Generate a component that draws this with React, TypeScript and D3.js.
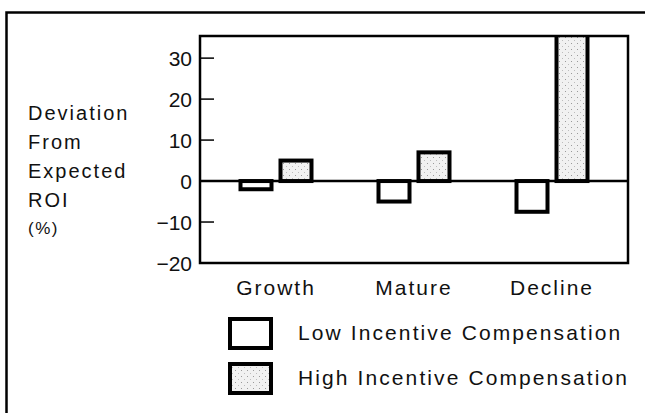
import React from "react";
import * as d3 from "d3";

const categories = ["Growth", "Mature", "Decline"];
const series = ["Low Incentive Compensation", "High Incentive Compensation"];
const lowValues = [-2, -5, -7.5];
const highValues = [5, 7, 45];
const yTicks = [30, 20, 10, 0, -10, -20];
const yLabelLines = ["Deviation", "From", "Expected", "ROI"];
const yUnit = "(%)";

const W = 645;
const H = 413;
const FONT = "'Liberation Sans', Arial, Helvetica, sans-serif";

export default function App() {
  const plot = { left: 200, right: 628, top: 36, bottom: 263 };
  const y = d3.scaleLinear().domain([-20, 35.4]).range([plot.bottom, plot.top]);
  const x0 = d3.scalePoint<string>().domain(categories).range([276, 552]);
  const x1 = d3.scaleBand<string>().domain(series).range([-35.5, 35.5]).paddingInner(0.225);
  const fills = ["#ffffff", "url(#stipple)"];

  const bars = categories.flatMap((c, i) =>
    [lowValues[i], highValues[i]].map((v, j) => {
      const s = series[j];
      const bx = (x0(c) as number) + (x1(s) as number);
      const y0 = y(0);
      const yv = y(v);
      return (
        <rect
          key={c + s}
          x={bx}
          y={Math.min(y0, yv)}
          width={x1.bandwidth()}
          height={Math.abs(yv - y0)}
          fill={fills[j]}
          stroke="#000"
          strokeWidth={4}
        />
      );
    })
  );

  const labelFill = "#111";

  return (
    <div style={{ position: "absolute", left: 0, top: 0 }}>
      <svg width={W} height={H} style={{ display: "block", background: "#fff" }}>
        <defs>
          <pattern id="stipple" width="6" height="6" patternUnits="userSpaceOnUse">
            <rect width="6" height="6" fill="#f1f1f1" />
            <rect x="1" y="1" width="1" height="1" fill="#9a9a9a" />
            <rect x="4" y="4" width="1" height="1" fill="#bdbdbd" />
          </pattern>
          <clipPath id="plotClip">
            <rect x={plot.left} y={plot.top} width={plot.right - plot.left} height={plot.bottom - plot.top} />
          </clipPath>
        </defs>

        {/* outer frame (open to right/bottom) */}
        <path d={`M6.5,${H} L6.5,12.5 L${W},12.5`} fill="none" stroke="#000" strokeWidth={2.5} />

        {/* bars */}
        <g clipPath="url(#plotClip)">{bars}</g>

        {/* zero line */}
        <line x1={plot.left} x2={plot.right} y1={y(0)} y2={y(0)} stroke="#000" strokeWidth={2.5} />

        {/* plot frame */}
        <rect
          x={plot.left}
          y={plot.top}
          width={plot.right - plot.left}
          height={plot.bottom - plot.top}
          fill="none"
          stroke="#000"
          strokeWidth={2.5}
        />

        {/* y ticks */}
        {yTicks.map((t) => (
          <g key={t}>
            <line x1={plot.left} x2={plot.left + 14} y1={y(t)} y2={y(t)} stroke="#000" strokeWidth={1.5} />
            <text
              x={192}
              y={y(t)}
              dy="0.36em"
              textAnchor="end"
              fontFamily={FONT}
              fontSize={21}
              fill={labelFill}
            >
              {t < 0 ? "\u2212" + Math.abs(t) : String(t)}
            </text>
          </g>
        ))}

        {/* y label */}
        {yLabelLines.map((l, i) => (
          <text
            key={l}
            x={28}
            y={120 + i * 29}
            fontFamily={FONT}
            fontSize={20}
            letterSpacing={2}
            fill={labelFill}
          >
            {l}
          </text>
        ))}
        <text x={28} y={234} fontFamily={FONT} fontSize={17} letterSpacing={1.5} fill={labelFill}>
          {yUnit}
        </text>

        {/* category labels */}
        {categories.map((c) => (
          <text
            key={c}
            x={x0(c) as number}
            y={295}
            textAnchor="middle"
            fontFamily={FONT}
            fontSize={21}
            letterSpacing={2}
            fill={labelFill}
          >
            {c}
          </text>
        ))}

        {/* legend */}
        {series.map((s, j) => (
          <g key={s} transform={`translate(0, ${j * 45})`}>
            <rect x={230} y={319} width={41} height={29} fill={fills[j]} stroke="#000" strokeWidth={4} />
            <text x={298} y={340} fontFamily={FONT} fontSize={21} letterSpacing={2.1} fill={labelFill}>
              {s}
            </text>
          </g>
        ))}
      </svg>
    </div>
  );
}
